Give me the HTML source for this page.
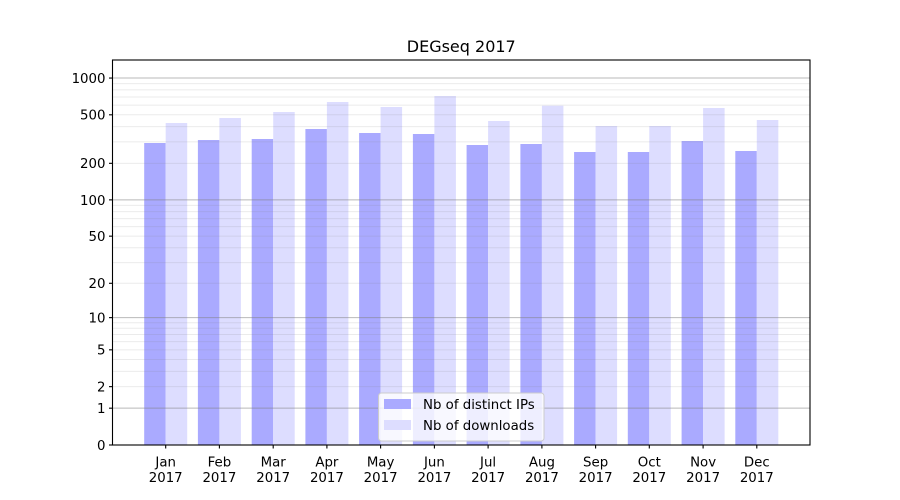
<!DOCTYPE html>
<html>
<head>
<meta charset="utf-8">
<style>
  html, body { margin: 0; padding: 0; background: #ffffff; }
  svg { display: block; }
  text { font-family: "DejaVu Sans", "Liberation Sans", sans-serif; fill: #000; }
</style>
</head>
<body>
<svg width="900" height="500" viewBox="0 0 900 500" xmlns="http://www.w3.org/2000/svg">
  <rect x="0" y="0" width="900" height="500" fill="#ffffff"/>

  <!-- bars: dark (distinct IPs) -->
  <g fill="#aaaaff">
    <rect x="144.2" y="143" width="21.5" height="302"/>
    <rect x="197.9" y="140" width="21.5" height="305"/>
    <rect x="251.7" y="139" width="21.5" height="306"/>
    <rect x="305.4" y="129" width="21.5" height="316"/>
    <rect x="359.1" y="133" width="21.5" height="312"/>
    <rect x="412.9" y="134" width="21.5" height="311"/>
    <rect x="466.6" y="145" width="21.5" height="300"/>
    <rect x="520.4" y="144" width="21.5" height="301"/>
    <rect x="574.1" y="152" width="21.5" height="293"/>
    <rect x="627.8" y="152" width="21.5" height="293"/>
    <rect x="681.6" y="141" width="21.5" height="304"/>
    <rect x="735.3" y="151" width="21.5" height="294"/>
  </g>
  <!-- bars: light (downloads) -->
  <g fill="#ddddff">
    <rect x="165.7" y="123" width="21.5" height="322"/>
    <rect x="219.4" y="118" width="21.5" height="327"/>
    <rect x="273.2" y="112" width="21.5" height="333"/>
    <rect x="326.9" y="102" width="21.5" height="343"/>
    <rect x="380.6" y="107" width="21.5" height="338"/>
    <rect x="434.4" y="96" width="21.5" height="349"/>
    <rect x="488.1" y="121" width="21.5" height="324"/>
    <rect x="541.9" y="105.7" width="21.5" height="339.3"/>
    <rect x="595.6" y="126" width="21.5" height="319"/>
    <rect x="649.3" y="126" width="21.5" height="319"/>
    <rect x="703.1" y="108" width="21.5" height="337"/>
    <rect x="756.8" y="120" width="21.5" height="325"/>
  </g>

  <!-- minor grid -->
  <g stroke="#808080" stroke-opacity="0.16" stroke-width="1">
    <line x1="112.5" x2="810" y1="386.65" y2="386.65"/>
    <line x1="112.5" x2="810" y1="371.37" y2="371.37"/>
    <line x1="112.5" x2="810" y1="359.52" y2="359.52"/>
    <line x1="112.5" x2="810" y1="349.83" y2="349.83"/>
    <line x1="112.5" x2="810" y1="341.64" y2="341.64"/>
    <line x1="112.5" x2="810" y1="334.55" y2="334.55"/>
    <line x1="112.5" x2="810" y1="328.30" y2="328.30"/>
    <line x1="112.5" x2="810" y1="322.70" y2="322.70"/>
    <line x1="112.5" x2="810" y1="283.29" y2="283.29"/>
    <line x1="112.5" x2="810" y1="262.61" y2="262.61"/>
    <line x1="112.5" x2="810" y1="247.76" y2="247.76"/>
    <line x1="112.5" x2="810" y1="236.16" y2="236.16"/>
    <line x1="112.5" x2="810" y1="226.65" y2="226.65"/>
    <line x1="112.5" x2="810" y1="218.59" y2="218.59"/>
    <line x1="112.5" x2="810" y1="211.59" y2="211.59"/>
    <line x1="112.5" x2="810" y1="205.41" y2="205.41"/>
    <line x1="112.5" x2="810" y1="163.32" y2="163.32"/>
    <line x1="112.5" x2="810" y1="141.87" y2="141.87"/>
    <line x1="112.5" x2="810" y1="126.64" y2="126.64"/>
    <line x1="112.5" x2="810" y1="114.81" y2="114.81"/>
    <line x1="112.5" x2="810" y1="105.14" y2="105.14"/>
    <line x1="112.5" x2="810" y1="96.97" y2="96.97"/>
    <line x1="112.5" x2="810" y1="89.89" y2="89.89"/>
    <line x1="112.5" x2="810" y1="83.64" y2="83.64"/>
  </g>
  <!-- major grid -->
  <g stroke="#808080" stroke-opacity="0.55" stroke-width="1">
    <line x1="112.5" x2="810" y1="408.18" y2="408.18"/>
    <line x1="112.5" x2="810" y1="317.64" y2="317.64"/>
    <line x1="112.5" x2="810" y1="199.87" y2="199.87"/>
    <line x1="112.5" x2="810" y1="78.05" y2="78.05"/>
  </g>

  <!-- axes frame -->
  <rect x="112.5" y="60" width="697.5" height="385" fill="none" stroke="#000" stroke-width="1.1"/>

  <!-- y ticks -->
  <g stroke="#000" stroke-width="1.1">
    <line x1="109" x2="112.5" y1="445" y2="445"/>
    <line x1="109" x2="112.5" y1="408.18" y2="408.18"/>
    <line x1="109" x2="112.5" y1="386.65" y2="386.65"/>
    <line x1="109" x2="112.5" y1="349.83" y2="349.83"/>
    <line x1="109" x2="112.5" y1="317.64" y2="317.64"/>
    <line x1="109" x2="112.5" y1="283.29" y2="283.29"/>
    <line x1="109" x2="112.5" y1="236.16" y2="236.16"/>
    <line x1="109" x2="112.5" y1="199.87" y2="199.87"/>
    <line x1="109" x2="112.5" y1="163.32" y2="163.32"/>
    <line x1="109" x2="112.5" y1="114.81" y2="114.81"/>
    <line x1="109" x2="112.5" y1="78.05" y2="78.05"/>
  </g>
  <g font-size="13.33" text-anchor="end">
    <text x="105.5" y="449.9">0</text>
    <text x="105.5" y="413.1">1</text>
    <text x="105.5" y="391.5">2</text>
    <text x="105.5" y="354.7">5</text>
    <text x="105.5" y="322.5">10</text>
    <text x="105.5" y="288.2">20</text>
    <text x="105.5" y="241.1">50</text>
    <text x="105.5" y="204.8">100</text>
    <text x="105.5" y="168.2">200</text>
    <text x="105.5" y="119.7">500</text>
    <text x="105.5" y="82.9">1000</text>
  </g>

  <!-- x ticks -->
  <g stroke="#000" stroke-width="1.1">
    <line x1="165.7" x2="165.7" y1="445" y2="448.5"/>
    <line x1="219.4" x2="219.4" y1="445" y2="448.5"/>
    <line x1="273.2" x2="273.2" y1="445" y2="448.5"/>
    <line x1="326.9" x2="326.9" y1="445" y2="448.5"/>
    <line x1="380.6" x2="380.6" y1="445" y2="448.5"/>
    <line x1="434.4" x2="434.4" y1="445" y2="448.5"/>
    <line x1="488.1" x2="488.1" y1="445" y2="448.5"/>
    <line x1="541.9" x2="541.9" y1="445" y2="448.5"/>
    <line x1="595.6" x2="595.6" y1="445" y2="448.5"/>
    <line x1="649.3" x2="649.3" y1="445" y2="448.5"/>
    <line x1="703.1" x2="703.1" y1="445" y2="448.5"/>
    <line x1="756.8" x2="756.8" y1="445" y2="448.5"/>
  </g>
  <g font-size="13.33" text-anchor="middle">
    <text x="165.7" y="466.7">Jan</text><text x="165.7" y="482">2017</text>
    <text x="219.4" y="466.7">Feb</text><text x="219.4" y="482">2017</text>
    <text x="273.2" y="466.7">Mar</text><text x="273.2" y="482">2017</text>
    <text x="326.9" y="466.7">Apr</text><text x="326.9" y="482">2017</text>
    <text x="380.6" y="466.7">May</text><text x="380.6" y="482">2017</text>
    <text x="434.4" y="466.7">Jun</text><text x="434.4" y="482">2017</text>
    <text x="488.1" y="466.7">Jul</text><text x="488.1" y="482">2017</text>
    <text x="541.9" y="466.7">Aug</text><text x="541.9" y="482">2017</text>
    <text x="595.6" y="466.7">Sep</text><text x="595.6" y="482">2017</text>
    <text x="649.3" y="466.7">Oct</text><text x="649.3" y="482">2017</text>
    <text x="703.1" y="466.7">Nov</text><text x="703.1" y="482">2017</text>
    <text x="756.8" y="466.7">Dec</text><text x="756.8" y="482">2017</text>
  </g>

  <!-- title -->
  <text x="461.25" y="52" font-size="16" text-anchor="middle">DEGseq 2017</text>

  <!-- legend -->
  <rect x="378.5" y="393" width="165.5" height="48" rx="3" ry="3" fill="#ffffff" fill-opacity="0.8" stroke="#cccccc" stroke-width="1"/>
  <rect x="384" y="399" width="27" height="10" fill="#aaaaff"/>
  <rect x="384" y="420" width="27" height="10" fill="#ddddff"/>
  <g font-size="13.33">
    <text x="423" y="409">Nb of distinct IPs</text>
    <text x="423" y="430">Nb of downloads</text>
  </g>
</svg>
</body>
</html>
